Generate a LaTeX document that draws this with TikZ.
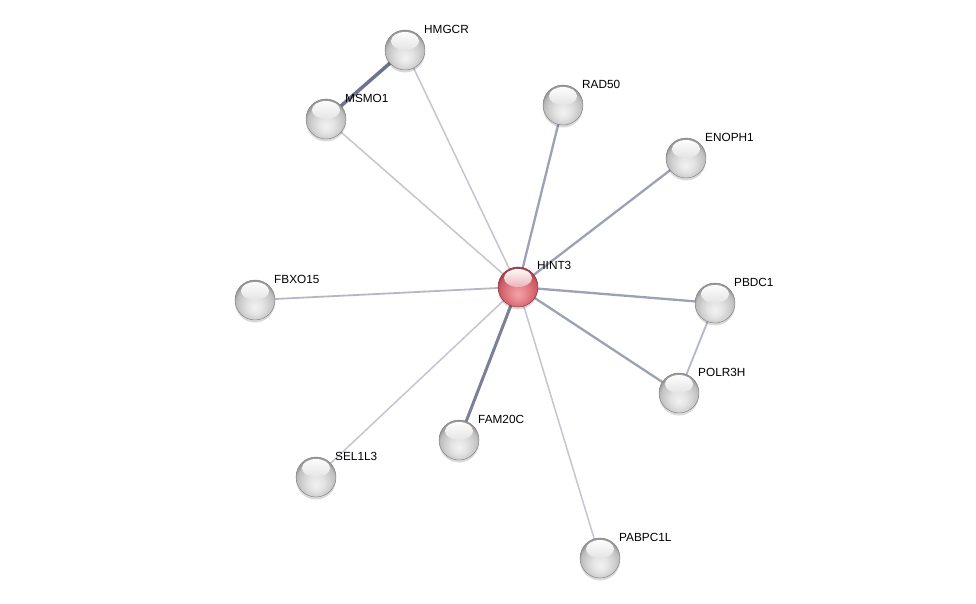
\documentclass[tikz,border=0pt]{standalone}
\usepackage{fontspec}
\setmainfont{Liberation Sans}
\usetikzlibrary{backgrounds,shadows}
\definecolor{ethin}{HTML}{C4C4D2}
\definecolor{elight}{HTML}{B4B7C8}
\definecolor{emed}{HTML}{9DA1B5}
\definecolor{ethick}{HTML}{7A8098}
\definecolor{edark}{HTML}{6C7390}
\definecolor{greyrim}{HTML}{7C7C7C}
\definecolor{greyhi}{HTML}{CACACA}
\definecolor{redrim}{HTML}{8E2A32}
\definecolor{redhi}{HTML}{D86A72}
\definecolor{r0}{HTML}{F0A4A8}
\definecolor{r1}{HTML}{E6868C}
\definecolor{r2}{HTML}{D86C74}
\definecolor{r3}{HTML}{C85A62}
\definecolor{r4}{HTML}{A8424A}
\pgfdeclareradialshading{greyball}{\pgfpoint{0bp}{-10bp}}{%
  color(0bp)=(white!95!black); color(10bp)=(white!89!black);
  color(18bp)=(white!81!black); color(24bp)=(white!74!black);
  color(27bp)=(white!60!black); color(50bp)=(white!60!black)}
\pgfdeclareradialshading{redball}{\pgfpoint{0bp}{-10bp}}{%
  color(0bp)=(r0); color(10bp)=(r1);
  color(18bp)=(r2); color(24bp)=(r3);
  color(27bp)=(r4); color(50bp)=(r4)}
\tikzset{
  ball/.style={circle, minimum size=40pt, inner sep=0pt, draw=greyrim, line width=0.4pt,
    drop shadow={shadow xshift=0pt, shadow yshift=-2.5pt, opacity=0.15, fill=black},
    shading=greyball,
    path picture={\shade[top color=white, bottom color=greyhi]
      ([yshift=9pt]path picture bounding box.center) ellipse [x radius=14pt, y radius=9pt];}},
  redb/.style={ball, draw=redrim, shading=redball,
    path picture={\shade[top color=white, bottom color=redhi]
      ([yshift=9pt]path picture bounding box.center) ellipse [x radius=14pt, y radius=9pt];}},
  lbl/.style={anchor=west, inner sep=0pt, font=\fontsize{11.8}{12}\selectfont, text=black},
  thin/.style={draw=ethin, line width=1.5pt},
  light/.style={draw=elight, line width=1.8pt},
  med/.style={draw=emed, line width=2.3pt},
  thick/.style={draw=ethick, line width=3pt},
  dark/.style={draw=edark, line width=3.5pt},
}
\begin{document}
\begin{tikzpicture}[x=1pt, y=-1pt]
\useasboundingbox (0,0) rectangle (976,604);
\node[redb] (hint3) at (518,287) {};
\node[ball] (hmgcr) at (405,50) {};
\node[ball] (msmo1) at (326,119) {};
\node[ball] (rad50) at (563,105) {};
\node[ball] (enoph1) at (686,158) {};
\node[ball] (fbxo15) at (255,300) {};
\node[ball] (pbdc1) at (715,303) {};
\node[ball] (polr3h) at (679,393) {};
\node[ball] (fam20c) at (459,440) {};
\node[ball] (sel1l3) at (316,477) {};
\node[ball] (pabpc1l) at (600,558) {};
\node[lbl] (l-hint3) at ([shift={(19,-22)}]hint3.center) {HINT3};
\node[lbl] (l-hmgcr) at ([shift={(19,-21)}]hmgcr.center) {HMGCR};
\node[lbl] (l-msmo1) at ([shift={(19,-21)}]msmo1.center) {MSMO1};
\node[lbl] (l-rad50) at ([shift={(19,-21)}]rad50.center) {RAD50};
\node[lbl] (l-enoph1) at ([shift={(19,-21)}]enoph1.center) {ENOPH1};
\node[lbl] (l-fbxo15) at ([shift={(19,-21)}]fbxo15.center) {FBXO15};
\node[lbl] (l-pbdc1) at ([shift={(19,-21)}]pbdc1.center) {PBDC1};
\node[lbl] (l-polr3h) at ([shift={(19,-21)}]polr3h.center) {POLR3H};
\node[lbl] (l-fam20c) at ([shift={(19,-21)}]fam20c.center) {FAM20C};
\node[lbl] (l-sel1l3) at ([shift={(19,-21)}]sel1l3.center) {SEL1L3};
\node[lbl] (l-pabpc1l) at ([shift={(19,-21)}]pabpc1l.center) {PABPC1L};
\begin{scope}[on background layer]
\draw[dark] (hmgcr.center) -- (msmo1.center);
\draw[thin] (hmgcr.center) -- (hint3.center);
\draw[thin] (msmo1.center) -- (hint3.center);
\draw[med] (rad50.center) -- (hint3.center);
\draw[med] (enoph1.center) -- (hint3.center);
\draw[light] (fbxo15.center) -- (hint3.center);
\draw[med] (pbdc1.center) -- (hint3.center);
\draw[med] (polr3h.center) -- (hint3.center);
\draw[light] (pbdc1.center) -- (polr3h.center);
\draw[thick] (fam20c.center) -- (hint3.center);
\draw[thin] (sel1l3.center) -- (hint3.center);
\draw[thin] (pabpc1l.center) -- (hint3.center);
\end{scope}
\end{tikzpicture}
\end{document}
